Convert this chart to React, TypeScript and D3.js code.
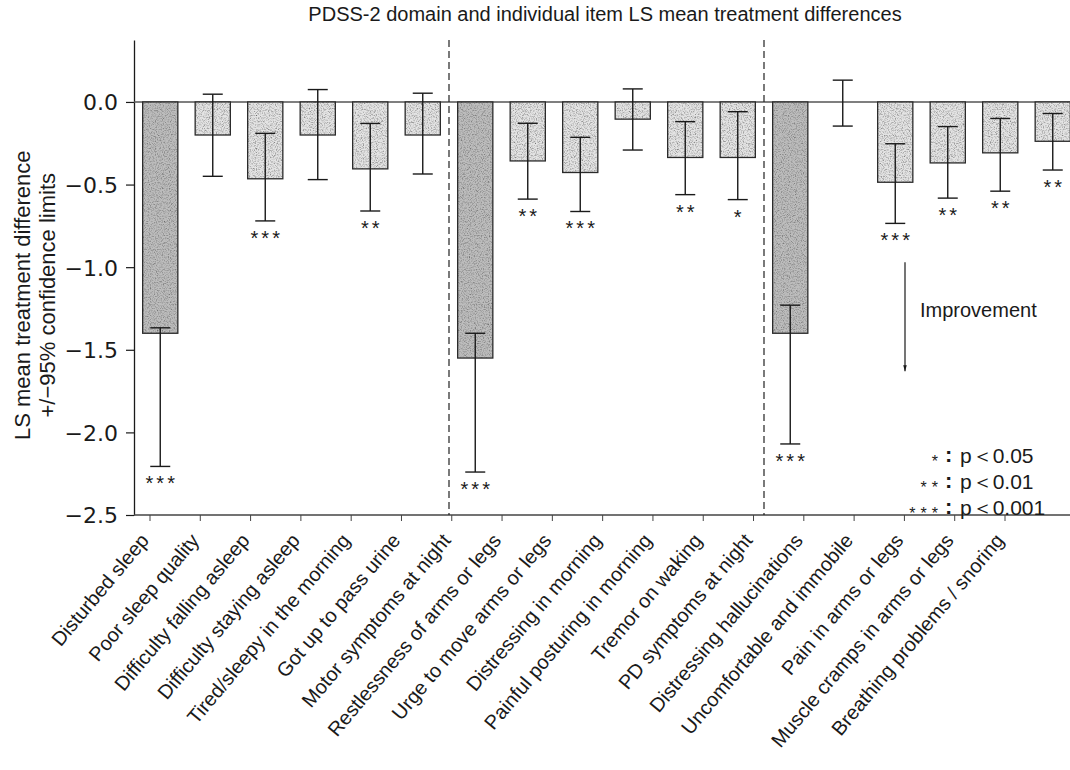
import React, { useEffect, useRef } from 'react';
import * as d3 from 'd3';

// PDSS-2 items, left to right
const items = [
  'Disturbed sleep',
  'Poor sleep quality',
  'Difficulty falling asleep',
  'Difficulty staying asleep',
  'Tired/sleepy in the morning',
  'Got up to pass urine',
  'Motor symptoms at night',
  'Restlessness of arms or legs',
  'Urge to move arms or legs',
  'Distressing in morning',
  'Painful posturing in morning',
  'Tremor on waking',
  'PD symptoms at night',
  'Distressing hallucinations',
  'Uncomfortable and immobile',
  'Pain in arms or legs',
  'Muscle cramps in arms or legs',
  'Breathing problems / snoring',
];

// domain scores get the darker bars
const domainItems = ['Disturbed sleep', 'Motor symptoms at night', 'PD symptoms at night'];

const lsMeans = [-1.4, -0.2, -0.465, -0.2, -0.405, -0.2, -1.55, -0.357, -0.427, -0.104, -0.336, -0.336, -1.4, 0, -0.486, -0.369, -0.308, -0.238];
const upperCL = [-1.367, 0.047, -0.19, 0.075, -0.13, 0.053, -1.4, -0.129, -0.214, 0.079, -0.119, -0.059, -1.23, 0.132, -0.253, -0.149, -0.1, -0.07];
const lowerCL = [-2.206, -0.45, -0.72, -0.47, -0.66, -0.436, -2.24, -0.588, -0.663, -0.291, -0.561, -0.591, -2.07, -0.146, -0.735, -0.582, -0.54, -0.412];
const stars = ['***', '', '***', '', '**', '', '***', '**', '***', '', '**', '*', '***', '', '***', '**', '**', '**'];

const yTicks = [0, -0.5, -1, -1.5, -2, -2.5];

const legendStars = ['*', '**', '***'];
const legendText = ['p＜0.05', 'p＜0.01', 'p＜0.001'];
const legendValues = [-2.14, -2.3, -2.46];

const App: React.FC = () => {
  const svgRef = useRef<SVGSVGElement>(null);

  useEffect(() => {
    if (!svgRef.current) return;
    const width = 1070;
    const height = 770;
    const font = '"Liberation Sans", Arial, Helvetica, sans-serif';
    const ink = '#1a1a1a';

    const svg = d3.select(svgRef.current);
    svg.selectAll('*').remove();
    svg.attr('width', width).attr('height', height).style('font-family', font);

    svg.append('rect').attr('width', width).attr('height', height).attr('fill', '#fff');

    const defs = svg.append('defs');

    // speckled print texture for the bars
    const grain = defs.append('filter')
      .attr('id', 'grain')
      .attr('x', 0).attr('y', 0).attr('width', 1).attr('height', 1);
    grain.append('feTurbulence')
      .attr('type', 'fractalNoise')
      .attr('baseFrequency', 0.85)
      .attr('numOctaves', 2)
      .attr('seed', 7)
      .attr('result', 'noise');
    grain.append('feColorMatrix')
      .attr('in', 'noise')
      .attr('type', 'matrix')
      .attr('values', '0 0 0 0 0.15  0 0 0 0 0.15  0 0 0 0 0.15  2.2 0 0 0 -0.95')
      .attr('result', 'dots');
    grain.append('feComposite')
      .attr('in', 'dots')
      .attr('in2', 'SourceGraphic')
      .attr('operator', 'atop');

    defs.append('marker')
      .attr('id', 'arrowhead')
      .attr('viewBox', '0 0 10 10')
      .attr('refX', 10).attr('refY', 5)
      .attr('markerWidth', 5).attr('markerHeight', 5)
      .attr('orient', 'auto')
      .append('path')
      .attr('d', 'M0,2 L10,5 L0,8 z')
      .attr('fill', ink);

    const xScale = d3.scaleBand<string>()
      .domain(items)
      .range([134, 1079])
      .paddingInner(0.33)
      .paddingOuter(0.165);

    // the category labels sit on their own, slightly tighter spacing
    const labelScale = d3.scalePoint<string>()
      .domain(items)
      .range([150, 1005]);

    const yScale = d3.scaleLinear().domain([-2.5, 0.375]).range([515, 40]);
    const x0 = 134;
    const xEnd = width;
    const yBase = yScale(-2.5);

    // title
    svg.append('text')
      .attr('x', 605)
      .attr('y', 21)
      .attr('text-anchor', 'middle')
      .style('font-size', '20px')
      .attr('fill', ink)
      .text('PDSS-2 domain and individual item LS mean treatment differences');

    // y axis
    const yAxis = svg.append('g')
      .attr('transform', `translate(${x0},0)`)
      .call(
        d3.axisLeft(yScale)
          .tickValues(yTicks)
          .tickSize(8)
          .tickSizeOuter(0)
          .tickFormat(d => d3.format('.1f')(d as number))
      );
    yAxis.select('.domain').attr('stroke', ink).attr('stroke-width', 1.3);
    yAxis.selectAll('.tick line').attr('stroke', ink).attr('stroke-width', 1.2);
    yAxis.selectAll('.tick text')
      .attr('x', -16)
      .attr('dy', '0.36em')
      .style('font-size', '22px')
      .style('font-family', '"DejaVu Sans", sans-serif')
      .attr('fill', ink);

    // y axis title, two lines
    const yTitle = svg.append('text')
      .attr('transform', `translate(0, ${yScale(-1.17)}) rotate(-90)`)
      .attr('text-anchor', 'middle')
      .style('font-size', '22px')
      .attr('fill', ink);
    yTitle.append('tspan').attr('x', 0).attr('y', 30).text('LS mean treatment difference');
    yTitle.append('tspan').attr('x', 0).attr('y', 55).text('+/−95% confidence limits');

    // bottom axis line and ticks
    svg.append('line')
      .attr('x1', x0).attr('x2', xEnd)
      .attr('y1', yBase).attr('y2', yBase)
      .attr('stroke', '#444').attr('stroke-width', 1.3);

    svg.selectAll('.xtick')
      .data(items)
      .enter()
      .append('line')
      .attr('x1', d => labelScale(d) || 0)
      .attr('x2', d => labelScale(d) || 0)
      .attr('y1', yBase)
      .attr('y2', yBase + 6)
      .attr('stroke', '#444');

    svg.selectAll('.xlabel')
      .data(items)
      .enter()
      .append('text')
      .attr('transform', d => `translate(${labelScale(d) || 0}, ${yBase + 26}) rotate(-50)`)
      .attr('text-anchor', 'end')
      .style('font-size', '20px')
      .attr('fill', ink)
      .text(d => d);

    // zero line
    svg.append('line')
      .attr('x1', x0).attr('x2', xEnd)
      .attr('y1', yScale(0)).attr('y2', yScale(0))
      .attr('stroke', '#555').attr('stroke-width', 1.6);

    // group separators
    ['Motor symptoms at night', 'PD symptoms at night'].forEach(name => {
      const sx = (xScale(name) || 0) - (xScale.step() - xScale.bandwidth()) / 2;
      svg.append('line')
        .attr('x1', sx).attr('x2', sx)
        .attr('y1', yScale(0.375)).attr('y2', yBase)
        .attr('stroke', '#222')
        .attr('stroke-width', 1.2)
        .attr('stroke-dasharray', '7,4');
    });

    const rows = items.map((name, i) => ({
      name,
      mean: lsMeans[i],
      upper: upperCL[i],
      lower: lowerCL[i],
      stars: stars[i],
      domain: domainItems.includes(name),
    }));
    const barRows = rows.filter(d => d.mean !== 0);

    // bar fills (textured), then outlines
    svg.selectAll('.barfill')
      .data(barRows)
      .enter()
      .append('rect')
      .attr('x', d => xScale(d.name) || 0)
      .attr('y', yScale(0))
      .attr('width', xScale.bandwidth())
      .attr('height', d => yScale(d.mean) - yScale(0))
      .attr('fill', d => (d.domain ? '#bdbdbd' : '#e4e4e4'))
      .attr('filter', 'url(#grain)');

    svg.selectAll('.barline')
      .data(barRows)
      .enter()
      .append('rect')
      .attr('x', d => xScale(d.name) || 0)
      .attr('y', yScale(0))
      .attr('width', xScale.bandwidth())
      .attr('height', d => yScale(d.mean) - yScale(0))
      .attr('fill', 'none')
      .attr('stroke', '#2a2a2a')
      .attr('stroke-width', 1.3);

    // error bars
    const capHalf = 10;
    const eb = svg.selectAll('.err')
      .data(rows)
      .enter()
      .append('g')
      .attr('stroke', '#1a1a1a')
      .attr('stroke-width', 1.4);
    const cx = (d: typeof rows[number]) => (xScale(d.name) || 0) + xScale.bandwidth() / 2;
    eb.append('line')
      .attr('x1', cx).attr('x2', cx)
      .attr('y1', d => yScale(d.upper)).attr('y2', d => yScale(d.lower));
    eb.append('line')
      .attr('x1', d => cx(d) - capHalf).attr('x2', d => cx(d) + capHalf)
      .attr('y1', d => yScale(d.upper)).attr('y2', d => yScale(d.upper));
    eb.append('line')
      .attr('x1', d => cx(d) - capHalf).attr('x2', d => cx(d) + capHalf)
      .attr('y1', d => yScale(d.lower)).attr('y2', d => yScale(d.lower));

    // significance stars
    svg.selectAll('.star')
      .data(rows.filter(d => d.stars))
      .enter()
      .append('text')
      .attr('x', d => cx(d) + 1.5)
      .attr('y', d => yScale(d.lower) + 24)
      .attr('text-anchor', 'middle')
      .style('font-size', '20px')
      .style('letter-spacing', '3px')
      .attr('fill', ink)
      .text(d => d.stars);

    // improvement arrow
    const ax = 905;
    svg.append('line')
      .attr('x1', ax).attr('x2', ax)
      .attr('y1', yScale(-0.97)).attr('y2', yScale(-1.63))
      .attr('stroke', ink).attr('stroke-width', 1.2)
      .attr('marker-end', 'url(#arrowhead)');
    svg.append('text')
      .attr('x', ax + 15)
      .attr('y', yScale(-1.26) + 7)
      .style('font-size', '20px')
      .attr('fill', ink)
      .text('Improvement');

    // p-value legend
    legendStars.forEach((s, i) => {
      const ly = yScale(legendValues[i]) + 7;
      svg.append('text')
        .attr('x', 943).attr('y', ly + 4)
        .attr('text-anchor', 'end')
        .style('font-size', '16px')
        .style('letter-spacing', '5px')
        .attr('fill', ink)
        .text(s);
      svg.append('text')
        .attr('x', 945).attr('y', ly - 1)
        .style('font-size', '22px')
        .style('font-weight', 'bold')
        .attr('fill', ink)
        .text(':');
      svg.append('text')
        .attr('x', 960).attr('y', ly)
        .style('font-size', '21px')
        .attr('fill', ink)
        .text(legendText[i]);
    });
  }, []);

  return <svg ref={svgRef} style={{ position: 'absolute', left: 0, top: 0 }}></svg>;
};

export default App;
